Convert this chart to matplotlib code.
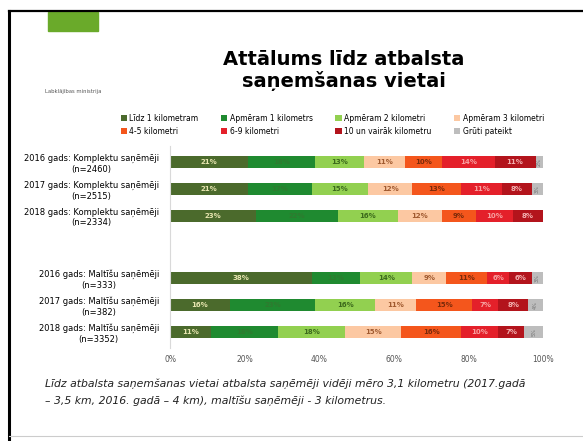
import numpy as np
import matplotlib.pyplot as plt
from matplotlib.lines import Line2D
from matplotlib.patches import Rectangle

# Data (percent of respondents)
rows = [
    "2016 gads: Komplektu saņēmēji\n(n=2460)",
    "2017 gads: Komplektu saņēmēji\n(n=2515)",
    "2018 gads: Komplektu saņēmēji\n(n=2334)",
    "2016 gads: Maltīšu saņēmēji\n(n=333)",
    "2017 gads: Maltīšu saņēmēji\n(n=382)",
    "2018 gads: Maltīšu saņēmēji\n(n=3352)",
]
categories = [
    "Līdz 1 kilometram", "Apmēram 1 kilometrs", "Apmēram 2 kilometri",
    "Apmēram 3 kilometri", "4-5 kilometri", "6-9 kilometri",
    "10 un vairāk kilometru", "Grūti pateikt",
]
lidz_1 = [21, 21, 23, 38, 16, 11]
apm_1 = [18, 17, 22, 13, 23, 18]
apm_2 = [13, 15, 16, 14, 16, 18]
apm_3 = [11, 12, 12, 9, 11, 15]
km_4_5 = [10, 13, 9, 11, 15, 16]
km_6_9 = [14, 11, 10, 6, 7, 10]
km_10 = [11, 8, 8, 6, 8, 7]
gruti = [2, 3, 0, 3, 4, 5]
series = [lidz_1, apm_1, apm_2, apm_3, km_4_5, km_6_9, km_10, gruti]

colors = ["#4b6a2c", "#1f8a30", "#92d050", "#fcc8a2",
          "#f4561c", "#e4202a", "#b3141c", "#bdbdbd"]
label_colors = ["#e8e6b0", "#2f7a2f", "#3c6a1c", "#a05a30",
                "#7a2a0a", "#f7a0a0", "#f2b0b0", "#707070"]

y_pos = np.array([0, 1, 2, 4.3, 5.3, 6.3])

fig = plt.figure(figsize=(5.83, 4.41), dpi=100)

# slide frame
fig.add_artist(Line2D([0.016, 0.016], [0, 0.975], color="black", lw=2.2))
fig.add_artist(Line2D([0.016, 1.0], [0.975, 0.975], color="black", lw=1.6))
fig.add_artist(Line2D([0.016, 1.0], [0.012, 0.012], color="#cccccc", lw=0.8))
fig.add_artist(Rectangle((0.083, 0.93), 0.085, 0.043, transform=fig.transFigure,
                         color="#6aaa2a"))
fig.text(0.125, 0.79, "Labklājības ministrija", fontsize=3.8, color="#555555",
         ha="center")

fig.text(0.59, 0.84, "Attālums līdz atbalsta\nsaņemšanas vietai", fontsize=14,
         fontweight="bold", ha="center", va="center", linespacing=1.15)

ax = fig.add_axes([0.2916, 0.211, 0.6398, 0.458])
left = np.zeros(len(rows))
for vals, name, c, lc in zip(series, categories, colors, label_colors):
    vals = np.array(vals, dtype=float)
    ax.barh(y_pos, vals, left=left, height=0.45, color=c, label=name)
    for y, l, v in zip(y_pos, left, vals):
        if v <= 0:
            continue
        if name == "Grūti pateikt":
            ax.text(l + v / 2, y, f"{int(v)}%", fontsize=3.5, color=lc,
                    ha="center", va="center", rotation=90)
        else:
            ax.text(l + v / 2, y, f"{int(v)}%", fontsize=5, color=lc,
                    ha="center", va="center", fontweight="bold")
    left += vals

ax.set_xlim(0, 100)
ax.set_ylim(6.9, -0.6)
ax.set_xticks(np.arange(0, 101, 20))
ax.set_xticklabels([f"{t}%" for t in range(0, 101, 20)])
ax.set_yticks(y_pos)
ax.set_yticklabels(rows, multialignment="center")
ax.tick_params(axis="x", length=0, labelsize=5.5, labelcolor="#555555", pad=5)
ax.tick_params(axis="y", length=0, labelsize=6, pad=8)
for s in ["top", "right", "bottom"]:
    ax.spines[s].set_visible(False)
ax.spines["left"].set_color("#d9d9d9")

# legend: fill row-wise in 4 columns
handles, labels = ax.get_legend_handles_labels()
order = [0, 4, 1, 5, 2, 6, 3, 7]
fig.legend([handles[i] for i in order], [labels[i] for i in order],
           loc="center", bbox_to_anchor=(0.57, 0.717), ncol=4, frameon=False,
           fontsize=5.5, handlelength=0.8, handleheight=0.8, handletextpad=0.3,
           columnspacing=3.0, labelspacing=0.5)

fig.text(0.078, 0.11,
         "Līdz atbalsta saņemšanas vietai atbalsta saņēmēji vidēji mēro 3,1 kilometru (2017.gadā\n"
         "– 3,5 km, 2016. gadā – 4 km), maltīšu saņēmēji - 3 kilometrus.",
         fontsize=7.8, style="italic", color="#222222", va="center",
         linespacing=1.8)

fig.savefig("out.png", dpi=100)
